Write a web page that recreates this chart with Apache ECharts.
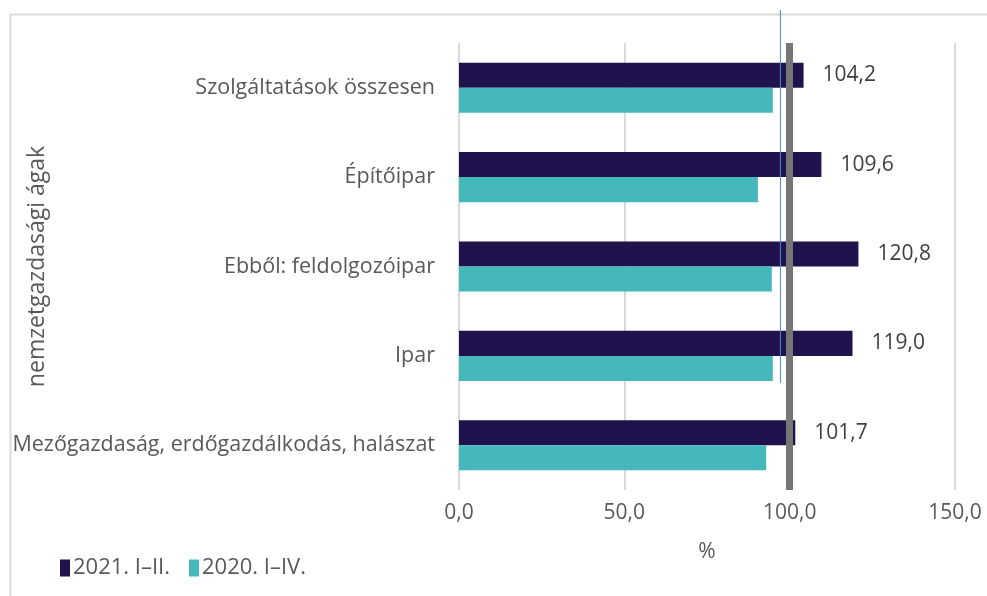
<!DOCTYPE html>
<html>
<head>
<meta charset="utf-8">
<script src="https://cdn.jsdelivr.net/npm/echarts@6/dist/echarts.min.js"></script>
<style>
  html, body { margin: 0; padding: 0; background: #fff; }
  #chart { width: 987px; height: 596px; }
</style>
</head>
<body>
<div id="chart"></div>
<script>
// kategóriák (alulról felfelé)
var categories = [
  'Mezőgazdaság, erdőgazdálkodás, halászat',
  'Ipar',
  'Ebből: feldolgozóipar',
  'Építőipar',
  'Szolgáltatások összesen'
]
var seriesNames = ['2021. I–II.', '2020. I–IV.']
var values2021 = [101.7, 119.0, 120.8, 109.6, 104.2]
var values2020 = [92.9, 94.9, 94.6, 90.4, 94.9]
var xTicks = [0, 50, 100, 150]
var refLine = 100
var blueLine = 97.2

var fmt = function (v) { return Number(v).toFixed(1).replace('.', ',') }
var FONT = 'Open Sans'
var TXT = '#595959'

var chart = echarts.init(document.getElementById('chart'))
chart.setOption({
  backgroundColor: '#fff',
  animation: false,
  textStyle: { fontFamily: FONT },
  grid: { left: 459, right: 32, top: 43, bottom: 106, outerBoundsMode: 'none', containLabel: false },
  legend: {
    data: seriesNames,
    left: 55,
    top: 552,
    icon: 'rect',
    itemWidth: 10,
    itemHeight: 17,
    itemGap: 19,
    textStyle: { fontSize: 22, color: TXT, fontFamily: FONT, padding: [0, 0, 0, -2] }
  },
  xAxis: {
    type: 'value',
    min: xTicks[0],
    max: xTicks[xTicks.length - 1],
    interval: 50,
    name: '%',
    nameLocation: 'middle',
    nameGap: 52,
    nameMoveOverlap: false,
    nameTextStyle: { fontSize: 21, color: TXT },
    axisLine: { show: false },
    axisTick: { show: false },
    axisLabel: { formatter: fmt, fontSize: 21, color: TXT, margin: 13 },
    splitLine: { show: true, lineStyle: { color: '#d9d9d9', width: 2 } }
  },
  yAxis: {
    type: 'category',
    data: categories,
    name: 'nemzetgazdasági ágak',
    nameLocation: 'middle',
    nameGap: 410,
    nameMoveOverlap: false,
    nameTextStyle: { fontSize: 23, color: TXT },
    axisLine: { show: false },
    axisTick: { show: false },
    axisLabel: { fontSize: 21.5, color: TXT, margin: 24 }
  },
  series: [
    {
      name: seriesNames[0],
      type: 'bar',
      data: values2021,
      barGap: 0,
      barCategoryGap: '44%',
      itemStyle: { color: '#20124d' },
      label: {
        show: true,
        position: 'right',
        distance: 19,
        formatter: function (p) { return fmt(p.value) },
        fontSize: 21,
        color: '#404040'
      },
      markLine: {
        silent: true,
        symbol: 'none',
        label: { show: false },
        lineStyle: { color: '#767676', width: 7, type: 'solid' },
        data: [{ xAxis: refLine }]
      }
    },
    {
      name: seriesNames[1],
      type: 'bar',
      data: values2020,
      barGap: 0,
      barCategoryGap: '44%',
      itemStyle: { color: '#45b8bb' }
    }
  ]
})

// keret + vékony kék vonal
var bx = chart.convertToPixel({ xAxisIndex: 0 }, blueLine)
chart.setOption({
  graphic: [
    {
      type: 'rect',
      shape: { x: 10.5, y: 14.5, width: 1000, height: 600 },
      style: { fill: 'none', stroke: '#d9d9d9', lineWidth: 2 },
      silent: true
    },
    {
      type: 'line',
      shape: { x1: bx, y1: 10, x2: bx, y2: 383 },
      style: { stroke: '#4a8ad4', lineWidth: 1 },
      z: 10,
      silent: true
    }
  ]
})
</script>
</body>
</html>
